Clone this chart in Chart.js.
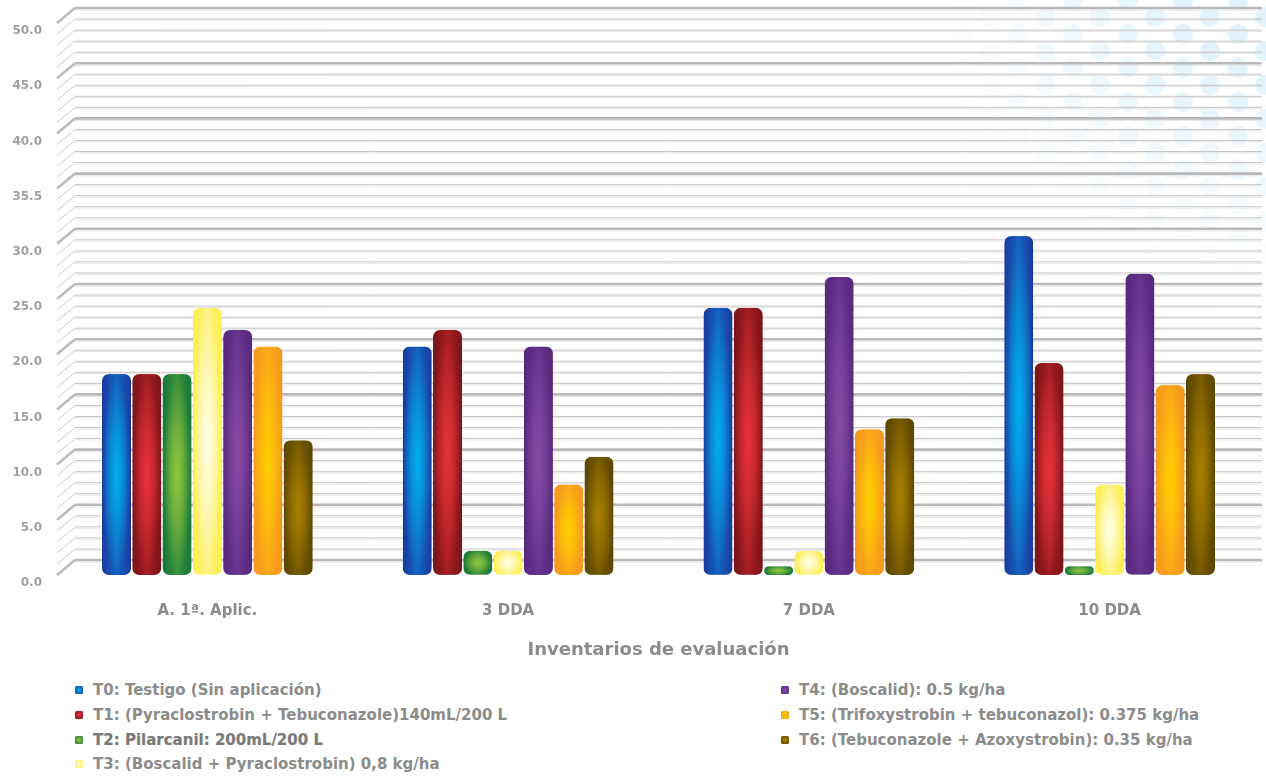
<!DOCTYPE html>
<html>
<head>
<meta charset="utf-8">
<script src="https://cdn.jsdelivr.net/npm/chart.js@4.4.1/dist/chart.umd.min.js"></script>
<style>
    html, body { margin: 0; padding: 0; background: #fff; }
    #wrap { position: relative; width: 1266px; height: 778px; overflow: hidden; font-family: "DejaVu Sans", sans-serif; }
    #dots {
        position: absolute; left: 930px; top: 0; width: 336px; height: 280px;
        background-image:
            radial-gradient(circle, #e3f3fc 9.5px, rgba(227,243,252,0) 10.5px),
            radial-gradient(circle, #e3f3fc 9.5px, rgba(227,243,252,0) 10.5px);
        background-size: 55px 34px, 55px 34px;
        background-position: 5.5px -17px, 32.5px 0px;
        -webkit-mask-image: radial-gradient(ellipse 100% 100% at 100% 0%, #000 25%, rgba(0,0,0,0) 100%);
        mask-image: radial-gradient(ellipse 100% 100% at 100% 0%, #000 25%, rgba(0,0,0,0) 100%);
    }
    #plot { position: absolute; left: 0; top: 0; }
    .legend-col { position: absolute; top: 678px; }
    .legend-item { display: flex; align-items: center; height: 24.7px; font-size: 15px; font-weight: 700; color: #8c8c8c; white-space: nowrap; }
    .legend-item.strong { color: #7a7a7a; -webkit-text-stroke: 0.2px #7a7a7a; }
    .swatch { width: 8px; height: 8px; border-radius: 1.5px; margin-right: 10px; flex: none; }
</style>
</head>
<body>
<div id="wrap">
    <div id="dots"></div>
    <canvas id="plot" width="1266" height="670" style="width:1266px;height:670px"></canvas>
    <div id="legendLeft" class="legend-col" style="left:75px"></div>
    <div id="legendRight" class="legend-col" style="left:781px"></div>
</div>
<script>
// categories and series
const categories = ['A. 1ª. Aplic.', '3 DDA', '7 DDA', '10 DDA'];
const seriesNames = [
    'T0: Testigo (Sin aplicación)',
    'T1: (Pyraclostrobin + Tebuconazole)140mL/200 L',
    'T2: Pilarcanil: 200mL/200 L',
    'T3: (Boscalid + Pyraclostrobin) 0,8 kg/ha',
    'T4: (Boscalid): 0.5 kg/ha',
    'T5: (Trifoxystrobin + tebuconazol): 0.375 kg/ha',
    'T6: (Tebuconazole + Azoxystrobin): 0.35 kg/ha'
];
const t0 = [18.2, 20.7, 24.2, 30.7];
const t1 = [18.2, 22.2, 24.2, 19.2];
const t2 = [18.2, 2.2, 0.8, 0.8];
const t3 = [24.2, 2.2, 2.2, 8.2];
const t4 = [22.2, 20.7, 27.0, 27.3];
const t5 = [20.7, 8.2, 13.2, 17.2];
const t6 = [12.2, 10.7, 14.2, 18.2];
const seriesValues = [t0, t1, t2, t3, t4, t5, t6];
const yTickLabels = ['0.0', '5.0', '10.0', '15.0', '20.0', '25.0', '30.0', '35.5', '40.0', '45.0', '50.0'];
const xTitle = 'Inventarios de evaluación';

const yMax = 50;
const majorStep = 5;
const minorStep = 1;

// bar colours: edge, middle and glow in the centre
const palette = [
    { edge: '#1a3a9c', mid: '#1462c0', glow: [0, 176, 240] },
    { edge: '#781418', mid: '#a41d24', glow: [234, 50, 58] },
    { edge: '#15763a', mid: '#3b8f3a', glow: [146, 200, 62] },
    { edge: '#ffee48', mid: '#fff385', glow: [255, 253, 232] },
    { edge: '#55287d', mid: '#66338c', glow: [134, 76, 164] },
    { edge: '#f7961d', mid: '#f9a81a', glow: [255, 206, 0] },
    { edge: '#5c4600', mid: '#765a00', glow: [170, 128, 0] }
];

const catPct = 0.705;
const barPct = 0.96;
const fontFamily = '"DejaVu Sans", sans-serif';

function barFill(ctx) {
    const p = palette[ctx.datasetIndex];
    if (ctx.type !== 'data') return p.mid;
    const xs = ctx.chart.scales.x, ys = ctx.chart.scales.y;
    if (!xs || !ys) return p.mid;
    const n = ctx.chart.data.datasets.length;
    const catW = xs.getPixelForValue(1) - xs.getPixelForValue(0);
    const top = ys.getPixelForValue(ctx.raw);
    const base = ys.getPixelForValue(0);
    if (!isFinite(catW) || catW <= 0 || !isFinite(top) || !isFinite(base)) return p.mid;
    const pitch = catW * catPct / n;
    const w = Math.max(2, Math.round(pitch * barPct));
    const cx = xs.getPixelForValue(ctx.dataIndex) + (ctx.datasetIndex - (n - 1) / 2) * pitch;
    const h = Math.max(2, Math.round(base - top));

    const off = document.createElement('canvas');
    off.width = w; off.height = h;
    const g = off.getContext('2d');
    const lin = g.createLinearGradient(0, 0, w, 0);
    lin.addColorStop(0, p.edge);
    lin.addColorStop(0.5, p.mid);
    lin.addColorStop(1, p.edge);
    g.fillStyle = lin;
    g.fillRect(0, 0, w, h);
    g.save();
    g.translate(w / 2, h / 2);
    g.scale(w / 2, h / 2);
    const rad = g.createRadialGradient(0, 0, 0, 0, 0, 1);
    const c = p.glow.join(',');
    rad.addColorStop(0, 'rgba(' + c + ',1)');
    rad.addColorStop(0.45, 'rgba(' + c + ',0.6)');
    rad.addColorStop(1, 'rgba(' + c + ',0)');
    g.fillStyle = rad;
    g.fillRect(-1, -1, 2, 2);
    g.restore();

    const pattern = ctx.chart.ctx.createPattern(off, 'no-repeat');
    pattern.setTransform(new DOMMatrix([1, 0, 0, 1, cx - w / 2, top]));
    return pattern;
}

// 3D style back wall grid with diagonal ticks on the left
const grid3d = {
    id: 'grid3d',
    beforeDatasetsDraw(chart) {
        const { ctx, chartArea } = chart;
        const y = chart.scales.y;
        const dx = 18, dy = 15;
        ctx.save();
        for (let v = 0; v <= yMax; v += minorStep) {
            const yf = y.getPixelForValue(v);
            const yb = yf - dy;
            const major = v % majorStep === 0;
            // diagonal
            ctx.beginPath();
            ctx.moveTo(chartArea.left, yf);
            ctx.lineTo(chartArea.left + dx, yb);
            ctx.lineWidth = major ? 2.6 : 0.9;
            ctx.strokeStyle = major ? '#bcbcbe' : '#c4c4c4';
            ctx.stroke();
            // back line
            ctx.beginPath();
            ctx.moveTo(chartArea.left + dx, yb);
            ctx.lineTo(chartArea.right + 2, yb);
            ctx.lineWidth = major ? 2.6 : 1;
            ctx.strokeStyle = major ? '#b9b9bc' : '#c6c6c6';
            ctx.stroke();
            ctx.beginPath();
            ctx.moveTo(chartArea.left + dx, yb + (major ? 2.2 : 1.4));
            ctx.lineTo(chartArea.right + 2, yb + (major ? 2.2 : 1.4));
            ctx.lineWidth = 1;
            ctx.strokeStyle = '#e6e6e6';
            ctx.stroke();
        }
        ctx.restore();
    }
};

const datasets = seriesNames.map((name, i) => ({
    label: name,
    data: seriesValues[i],
    backgroundColor: barFill,
    borderWidth: 0,
    borderRadius: 7,
    borderSkipped: false,
    categoryPercentage: catPct,
    barPercentage: barPct
}));

const chart = new Chart(document.getElementById('plot').getContext('2d'), {
    type: 'bar',
    data: { labels: categories, datasets: datasets },
    options: {
        responsive: false,
        animation: false,
        events: [],
        layout: { padding: { top: 23, right: 6, left: 0, bottom: 0 } },
        plugins: {
            legend: { display: false },
            tooltip: { enabled: false }
        },
        scales: {
            x: {
                grid: { display: false, drawTicks: false },
                border: { display: false },
                ticks: {
                    color: '#8c8c8c',
                    padding: 27,
                    font: { family: fontFamily, size: 15, weight: 'bold' }
                },
                title: {
                    display: true,
                    text: xTitle,
                    color: '#8c8c8c',
                    padding: { top: 0, bottom: 9 },
                    font: { family: fontFamily, size: 18, weight: 'bold' }
                },
                afterFit: (s) => { s.height = 95; }
            },
            y: {
                min: 0,
                max: yMax,
                grid: { display: false, drawTicks: false },
                border: { display: false },
                ticks: {
                    stepSize: majorStep,
                    padding: 15,
                    labelOffset: 8,
                    color: '#a0a0a0',
                    font: { family: fontFamily, size: 12, weight: 'bold' },
                    callback: (value, index) => yTickLabels[index]
                },
                afterFit: (s) => { s.width = 57; }
            }
        }
    },
    plugins: [grid3d]
});

// legend in two columns below the chart
const legendLeft = document.getElementById('legendLeft');
const legendRight = document.getElementById('legendRight');
chart.data.datasets.forEach((ds, i) => {
    const p = palette[i];
    const item = document.createElement('div');
    item.className = 'legend-item' + (i === 2 ? ' strong' : '');
    const sw = document.createElement('span');
    sw.className = 'swatch';
    sw.style.background = 'radial-gradient(circle, rgb(' + p.glow.join(',') + ') 0%, ' + p.edge + ' 100%)';
    const tx = document.createElement('span');
    tx.textContent = ds.label;
    item.append(sw, tx);
    (i < 4 ? legendLeft : legendRight).appendChild(item);
});
</script>
</body>
</html>
